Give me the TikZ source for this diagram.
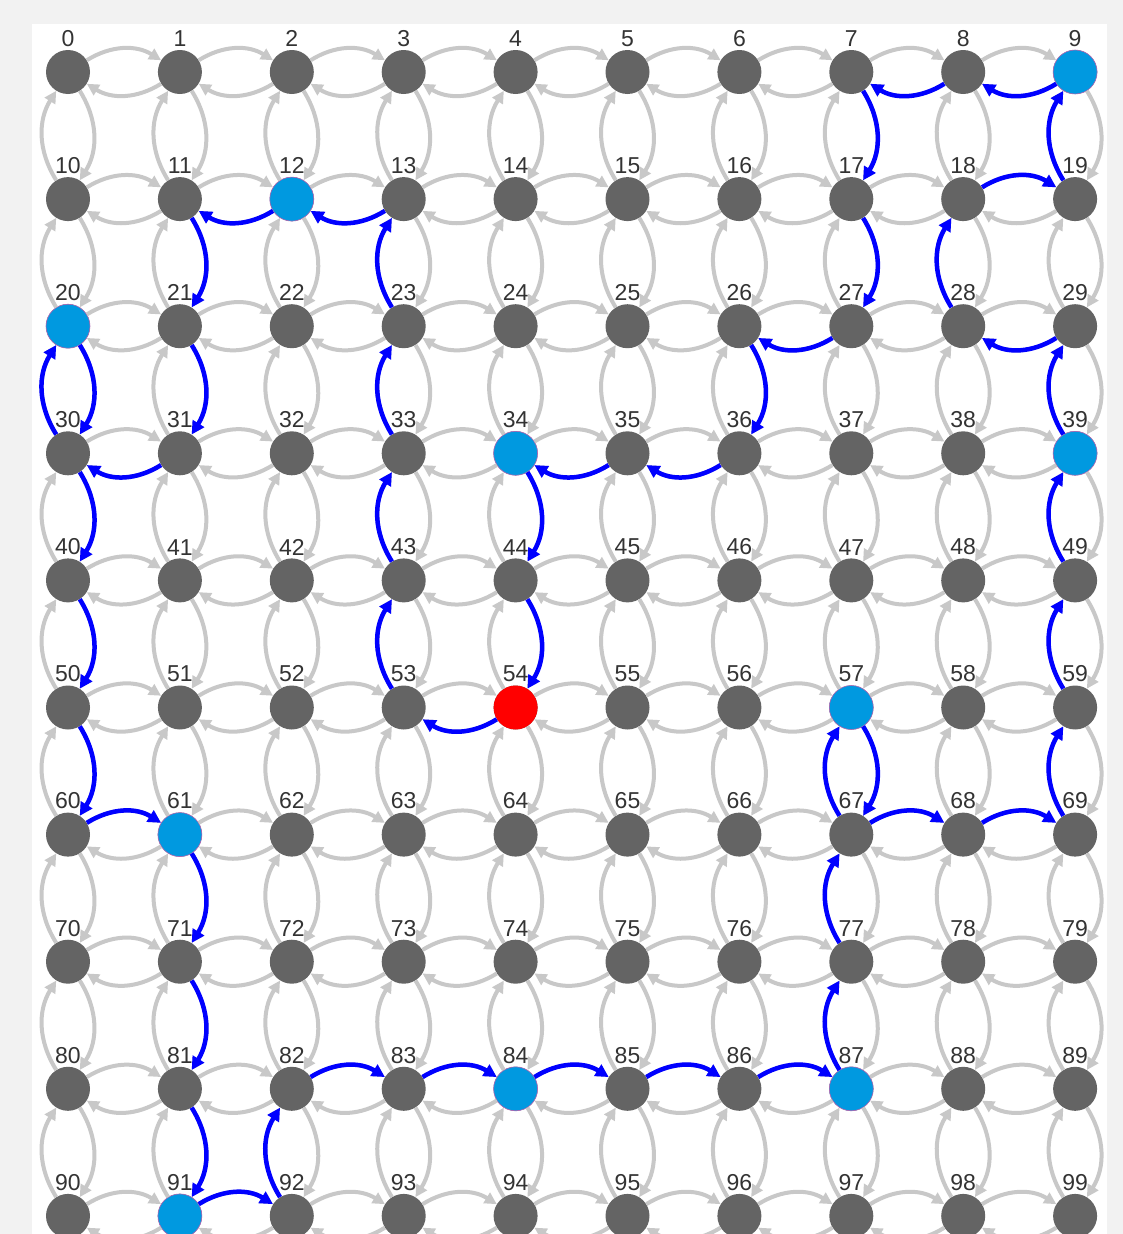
\documentclass[tikz,border=0pt]{standalone}
\usepackage{fontspec}
\setmainfont{Liberation Sans}
\usetikzlibrary{arrows.meta}
\definecolor{nodegray}{HTML}{646464}
\definecolor{edgegray}{HTML}{C8C8C8}
\definecolor{visited}{HTML}{0099E0}
\definecolor{bggray}{HTML}{F2F2F2}
\begin{document}
\begin{tikzpicture}[x=1pt,y=-1pt,
    vertex/.style={circle,fill=nodegray,minimum size=44pt,inner sep=0pt},
    seen/.style={fill=visited,draw=violet!60,line width=0.6pt},
    start/.style={fill=red},
    lab/.style={font=\fontsize{23}{23}\selectfont,text=black!80,inner sep=0pt,label distance=3pt},
    link/.style={draw=edgegray,line width=4pt,bend left=32,-{Triangle[length=12pt,width=12pt]}},
    route/.style={draw=blue,line width=4.5pt,bend left=32,-{Triangle[length=13pt,width=13pt]}}]
    \useasboundingbox (0,0) rectangle (1123,1234);
    \clip (0,0) rectangle (1123,1234);
    \fill[bggray] (0,0) rectangle (1123,1234);
    \fill[white] (32,24) rectangle (1107,1234);
    % grid of cells
    \foreach \r in {0,...,9}
        \foreach \c in {0,...,9} {
            \pgfmathtruncatemacro{\k}{10*\r+\c}
            \node[vertex,label={[lab]above:\k}] (n\k) at ({68+111.9*\c},{72+127.1*\r}) {};
        }
    \foreach \k in {9,12,20,34,39,57,61,84,87,91}
        \node[vertex,seen] at (n\k) {};
    \node[vertex,start] at (n54) {};
    % all moves
    \foreach \r in {0,...,9}
        \foreach \c in {0,...,8} {
            \pgfmathtruncatemacro{\a}{10*\r+\c}
            \pgfmathtruncatemacro{\b}{\a+1}
            \draw[link] (n\a) to (n\b);
            \draw[link] (n\b) to (n\a);
        }
    \foreach \r in {0,...,8}
        \foreach \c in {0,...,9} {
            \pgfmathtruncatemacro{\a}{10*\r+\c}
            \pgfmathtruncatemacro{\b}{\a+10}
            \draw[link] (n\a) to (n\b);
            \draw[link] (n\b) to (n\a);
        }
    % the walk
    \foreach \a/\b in {9/8,8/7,7/17,17/27,27/26,26/36,36/35,35/34,34/44,44/54,
        54/53,53/43,43/33,33/23,23/13,13/12,12/11,11/21,21/31,31/30,30/20,20/30,
        30/40,40/50,50/60,60/61,61/71,71/81,81/91,91/92,92/82,82/83,83/84,84/85,
        85/86,86/87,87/77,77/67,67/57,57/67,67/68,68/69,69/59,59/49,49/39,39/29,
        29/28,28/18,18/19,19/9}
        \draw[route] (n\a) to (n\b);
\end{tikzpicture}
\end{document}
